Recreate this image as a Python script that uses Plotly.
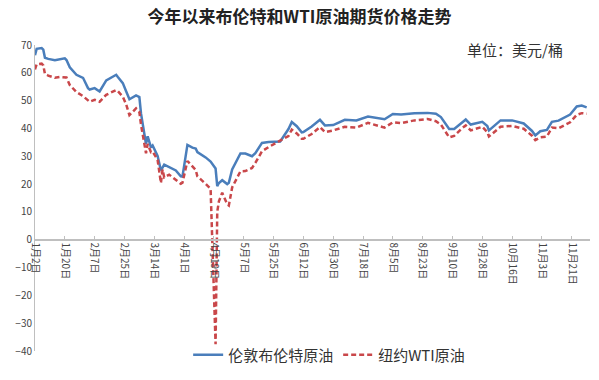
import plotly.graph_objects as go

# Brent (伦敦布伦特原油) - dates and values
brent_dates = ["2020-01-02","2020-01-03","2020-01-06","2020-01-07","2020-01-08","2020-01-10","2020-01-14","2020-01-17","2020-01-20","2020-01-21","2020-01-23","2020-01-27","2020-01-31","2020-02-03","2020-02-04","2020-02-07","2020-02-10","2020-02-14","2020-02-20","2020-02-21","2020-02-24","2020-02-26","2020-02-28","2020-03-03","2020-03-05","2020-03-06","2020-03-09","2020-03-10","2020-03-12","2020-03-13","2020-03-16","2020-03-18","2020-03-20","2020-03-27","2020-03-30","2020-03-31","2020-04-02","2020-04-03","2020-04-06","2020-04-08","2020-04-09","2020-04-14","2020-04-17","2020-04-20","2020-04-21","2020-04-22","2020-04-24","2020-04-27","2020-04-28","2020-04-30","2020-05-05","2020-05-08","2020-05-12","2020-05-14","2020-05-18","2020-05-22","2020-05-29","2020-06-03","2020-06-05","2020-06-08","2020-06-11","2020-06-12","2020-06-17","2020-06-22","2020-06-25","2020-06-30","2020-07-07","2020-07-14","2020-07-21","2020-07-31","2020-08-05","2020-08-10","2020-08-18","2020-08-26","2020-08-31","2020-09-03","2020-09-08","2020-09-11","2020-09-16","2020-09-18","2020-09-21","2020-09-28","2020-10-01","2020-10-02","2020-10-09","2020-10-16","2020-10-23","2020-10-28","2020-10-30","2020-11-02","2020-11-06","2020-11-09","2020-11-13","2020-11-20","2020-11-24","2020-11-27","2020-11-30"]
brent_values = [66.3,68.6,68.9,68.3,65.4,65.0,64.5,64.9,65.2,64.6,62.0,59.3,58.2,54.5,54.0,54.5,53.3,57.3,59.3,58.5,56.3,53.4,50.5,51.9,51.3,45.3,34.4,37.2,33.2,33.9,30.1,24.9,27.0,24.9,22.8,22.7,29.9,34.1,33.1,32.8,31.5,29.6,28.1,25.6,19.3,20.4,21.4,20.0,20.5,25.3,31.0,31.0,30.0,31.1,34.8,35.1,35.3,39.8,42.3,40.8,38.6,38.7,40.7,43.1,41.1,41.2,43.1,42.9,44.3,43.3,45.2,45.0,45.5,45.6,45.3,44.1,39.8,39.8,42.2,43.2,41.4,42.4,40.9,39.3,42.9,42.9,41.8,39.1,37.5,39.0,39.5,42.4,42.8,45.0,47.9,48.2,47.6]

# WTI (纽约WTI原油)
wti_dates = ["2020-01-02","2020-01-03","2020-01-06","2020-01-07","2020-01-08","2020-01-10","2020-01-14","2020-01-17","2020-01-21","2020-01-23","2020-01-27","2020-01-31","2020-02-04","2020-02-07","2020-02-10","2020-02-14","2020-02-20","2020-02-21","2020-02-24","2020-02-26","2020-02-28","2020-03-03","2020-03-05","2020-03-06","2020-03-09","2020-03-10","2020-03-12","2020-03-13","2020-03-16","2020-03-18","2020-03-19","2020-03-20","2020-03-23","2020-03-27","2020-03-30","2020-03-31","2020-04-02","2020-04-03","2020-04-08","2020-04-09","2020-04-14","2020-04-17","2020-04-20","2020-04-21","2020-04-22","2020-04-24","2020-04-27","2020-04-28","2020-04-30","2020-05-05","2020-05-08","2020-05-12","2020-05-14","2020-05-18","2020-05-22","2020-05-29","2020-06-03","2020-06-05","2020-06-08","2020-06-11","2020-06-12","2020-06-17","2020-06-22","2020-06-25","2020-06-30","2020-07-07","2020-07-14","2020-07-21","2020-07-31","2020-08-05","2020-08-10","2020-08-18","2020-08-26","2020-08-31","2020-09-03","2020-09-08","2020-09-11","2020-09-16","2020-09-18","2020-09-21","2020-09-28","2020-10-01","2020-10-02","2020-10-09","2020-10-16","2020-10-23","2020-10-28","2020-10-30","2020-11-02","2020-11-06","2020-11-09","2020-11-13","2020-11-20","2020-11-24","2020-11-27","2020-11-30"]
wti_values = [61.2,63.1,63.3,62.7,59.6,59.0,58.2,58.5,58.3,55.6,53.1,51.6,49.6,50.3,49.6,52.1,53.8,53.4,51.4,48.7,44.8,47.2,45.9,41.3,31.1,34.4,31.5,31.7,28.7,20.4,25.2,22.4,23.4,21.5,20.1,20.5,25.3,28.3,25.1,22.8,20.1,18.3,-37.6,10.0,13.8,16.9,12.8,12.3,18.8,24.6,24.7,25.8,27.6,31.8,33.3,35.5,37.3,39.6,38.2,36.3,36.3,38.0,40.5,38.7,39.3,40.6,40.3,42.0,40.3,42.2,41.9,42.9,43.4,42.6,41.4,36.8,37.3,40.2,41.1,39.3,40.6,38.7,37.1,40.6,40.9,39.9,37.4,35.8,36.8,37.1,40.3,40.1,42.2,44.9,45.5,45.3]

tick_dates = ["2020-01-02","2020-01-20","2020-02-07","2020-02-25","2020-03-14","2020-04-01","2020-04-19","2020-05-07","2020-05-25","2020-06-12","2020-06-30","2020-07-18","2020-08-05","2020-08-23","2020-09-10","2020-09-28","2020-10-16","2020-11-03","2020-11-21"]
tick_labels = ["1月2日","1月20日","2月7日","2月25日","3月14日","4月1日","4月19日","5月7日","5月25日","6月12日","6月30日","7月18日","8月5日","8月23日","9月10日","9月28日","10月16日","11月3日","11月21日"]

FONT = "Noto Sans CJK SC"

fig = go.Figure()
fig.add_trace(go.Scatter(x=brent_dates, y=brent_values, mode="lines",
                         name="伦敦布伦特原油",
                         line=dict(color="#4A7EBB", width=2.5)))
fig.add_trace(go.Scatter(x=wti_dates, y=wti_values, mode="lines",
                         name="纽约WTI原油",
                         line=dict(color="#C9474A", width=2.5, dash="5px,3px")))

fig.update_layout(
    width=599, height=380,
    margin=dict(l=35, r=9, t=45, b=28),
    paper_bgcolor="white", plot_bgcolor="white",
    font=dict(family=FONT, color="#333"),
    title=dict(text="今年以来布伦特和WTI原油期货价格走势", x=0.5, xanchor="center",
               y=0.955, yanchor="middle",
               font=dict(family=FONT, size=17, color="#222", weight="bold")),
    showlegend=True,
    legend=dict(orientation="h", x=0.53, xanchor="center", y=-0.01, yanchor="middle",
                font=dict(family=FONT, size=15, color="#333"),
                itemwidth=30, bgcolor="rgba(0,0,0,0)"),
    xaxis=dict(type="date", range=["2020-01-02", "2020-12-02"],
               tickvals=tick_dates, ticktext=tick_labels, tickangle=90,
               tickfont=dict(family=FONT, size=10, color="#444"),
               showgrid=False, zeroline=False,
               showline=True, linecolor="#BFBFBF", linewidth=1.5,
               ticks="inside", ticklen=3, tickcolor="#BFBFBF",
               anchor="free", position=40/110),
    yaxis=dict(range=[-40, 70], dtick=10, tick0=0,
               showgrid=False, zeroline=False,
               showline=True, linecolor="#BFBFBF", linewidth=1,
               ticks="", tickfont=dict(family=FONT, size=10, color="#444")),
    annotations=[dict(text="单位：美元/桶", xref="paper", yref="paper",
                      x=0.955, y=0.985, xanchor="right", yanchor="middle",
                      showarrow=False, font=dict(family=FONT, size=15, color="#333"))],
)

fig.write_html("out.html")
